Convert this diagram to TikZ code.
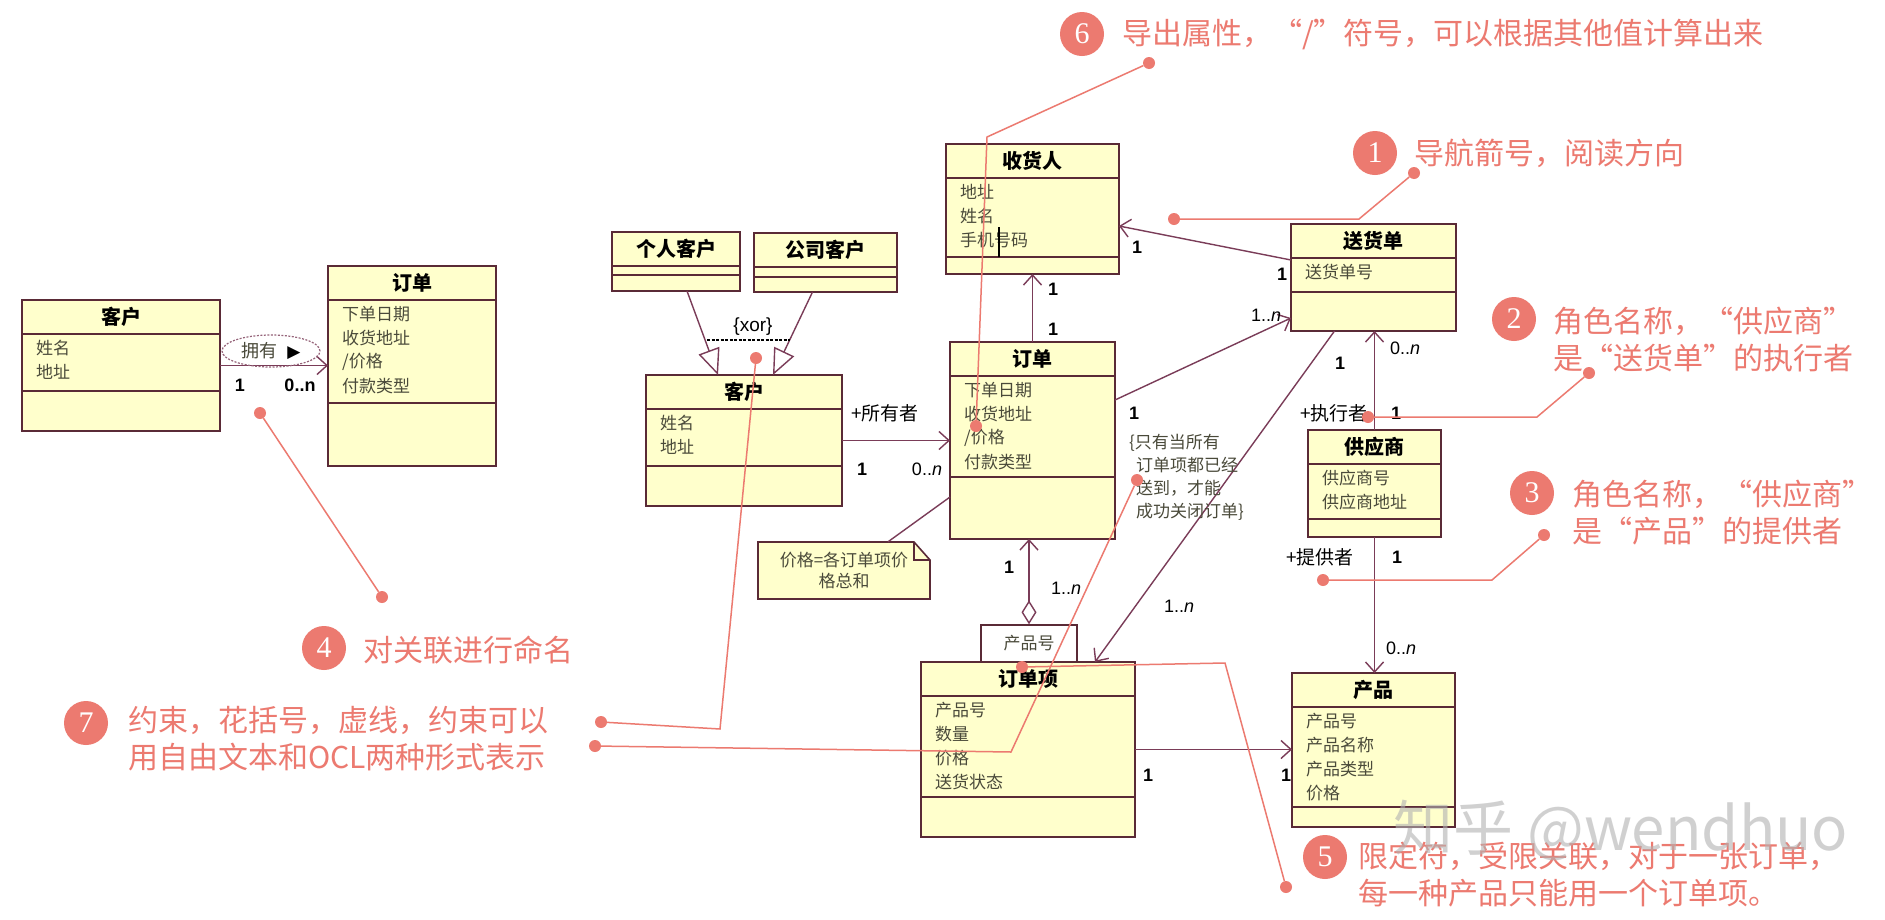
\documentclass[tikz,border=0pt]{standalone}
\usepackage{fontspec}
\setmainfont{Liberation Sans}
\newfontfamily\cjk{Noto Sans CJK SC}
\newfontfamily\numfont{Liberation Serif}
\newfontfamily\symfont{DejaVu Sans}
\usetikzlibrary{arrows.meta,positioning,calc,shapes.geometric}
\definecolor{clsfill}{HTML}{FFFFCC}
\definecolor{clsdraw}{HTML}{5A2A36}
\definecolor{umlline}{HTML}{7A3C58}
\definecolor{annored}{HTML}{EC7A70}
\definecolor{attrtext}{HTML}{4A4A3A}
\newcommand{\sz}[2]{\fontsize{#1}{#2}\selectfont}
% class box: name, left, top, width, height, end of attribute part, title, attributes
\newcommand{\umlcls}[8]{%
  \node[clsbox, anchor=north west, minimum width=#4, minimum height=#5] (#1) at (#2,#3) {};
  \draw[clsrule] ([yshift=-34]#1.north west) -- ([yshift=-34]#1.north east)
                 ([yshift=-#6]#1.north west) -- ([yshift=-#6]#1.north east);
  \node[clstitle] at ([yshift=-17]#1.north) {#7};
  \foreach \attr [count=\i] in {#8}
    \node[clsattr] at ([xshift=14,yshift={-48-24*(\i-1)}]#1.north west) {\attr};
}

\begin{document}
\begin{tikzpicture}[x=1pt,y=-1pt,
    clsbox/.style={draw=clsdraw,fill=clsfill,line width=1.6pt,inner sep=0pt,outer sep=0pt},
    clsrule/.style={draw=clsdraw,line width=1.4pt},
    clstitle/.style={font=\cjk\bfseries\sz{20}{24},text=black,inner sep=0pt},
    clsattr/.style={anchor=west,font=\cjk\sz{17}{24},text=attrtext,inner sep=0pt},
    assoc/.style={draw=umlline,line width=1.4pt,-{Straight Barb[length=10pt,width=18pt]}},
    gen/.style={draw=umlline,line width=1.4pt,-{Triangle[open,length=26pt,width=22pt,fill=white]}},
    mult/.style={font=\bfseries\sz{18}{20},inner sep=0pt},
    multn/.style={font=\sz{18}{20},inner sep=0pt},
    role/.style={font=\cjk\sz{19}{22},inner sep=0pt},
    anno/.style={font=\cjk\sz{30}{37},text=annored,align=left,anchor=west,inner sep=0pt},
    annonum/.style={circle,fill=annored,minimum size=44pt,inner sep=0pt,text=white,
                    font=\numfont\sz{30}{30}},
    annodot/.style={circle,fill=annored,minimum size=12pt,inner sep=0pt},
    annoline/.style={draw=annored,line width=1.5pt}]
  \fill[white] (0,0) rectangle (1885,919);
  \useasboundingbox (0,0) rectangle (1885,919);

  % classes
  \umlcls{khl}{22}{300}{198}{131}{91}{客户}{姓名,地址}
  \umlcls{ddl}{328}{266}{168}{200}{137}{订单}{下单日期,收货地址,/价格,付款类型}
  \umlcls{grkh}{612}{232}{128}{59}{43}{个人客户}{}
  \umlcls{gskh}{754}{233}{143}{59}{44}{公司客户}{}
  \umlcls{khm}{646}{375}{196}{131}{91}{客户}{姓名,地址}
  \umlcls{shr}{946}{144}{173}{130}{113}{收货人}{地址,姓名,手机号码}
  \umlcls{shd}{1291}{224}{165}{107}{68}{送货单}{送货单号}
  \umlcls{ddm}{950}{342}{165}{197}{135}{订单}{下单日期,收货地址,/价格,付款类型}
  \umlcls{gys}{1308}{430}{133}{107}{89}{供应商}{供应商号,供应商地址}
  \umlcls{cp}{1292}{673}{163}{154}{134}{产品}{产品号,产品名称,产品类型,价格}
  \umlcls{ddx}{921}{662}{214}{175}{135}{订单项}{产品号,数量,价格,送货状态}
  \draw[black,line width=1.2pt] (999,227) -- (999,257);

  % qualifier and note
  \node[draw=clsdraw,fill=white,line width=1.4pt,minimum width=96,minimum height=37,
        inner sep=0pt,font=\cjk\sz{17}{20},text=attrtext] (qual) at (1029,643.5) {产品号};
  \draw[clsbox] (758,542) -- (914,542) -- (930,560) -- (930,599) -- (758,599) -- cycle;
  \draw[clsrule] (914,542) -- (914,560) -- (930,560);
  \node[minimum width=172,minimum height=57,inner sep=0pt,align=center,
        font=\cjk\sz{17}{21},text=attrtext] (note) at (844,570.5) {价格=各订单项价\\格总和};

  % connectors
  \draw[assoc] (khl.east) -- (khl.east -| ddl.west);
  \node[ellipse,draw=umlline!80,dash pattern=on 2pt off 1.5pt,line width=1.2pt,
        minimum width=98,minimum height=32,inner sep=0pt,font=\cjk\sz{18}{20},text=attrtext]
        (yy) at (271,351) {拥有\hspace{10pt}{\symfont\color{black}\sz{17}{17}▶}};
  \draw[gen] ([xshift=11]grkh.south) -- ([xshift=-26]khm.north);
  \draw[gen] ([xshift=-13]gskh.south) -- ([xshift=29]khm.north);
  \draw[black,line width=1.6pt,dash pattern=on 3pt off 1.5pt] (707,340) -- (790,340);
  \node[font=\sz{19}{22},inner sep=0pt] (xor) at (753,327) {\{xor\}};
  \draw[assoc] (khm.east) -- (khm.east -| ddm.west);
  \draw[assoc] (ddm.north) -- (ddm.north |- shr.south);
  \draw[assoc] ([yshift=-36]shd.north west) -- ([yshift=-17]shr.east);
  \draw[assoc] ([yshift=-58]ddm.north east) -- ([yshift=-94]shd.north west);
  \draw[assoc] ([xshift=-39]shd.south) -- ([xshift=67]ddx.north);
  \draw[assoc] (gys.north) -- (gys.north |- shd.south);
  \draw[assoc] (gys.south) -- (gys.south |- cp.north);
  \draw[assoc] (ddx.east) -- (ddx.east -| cp.west);
  \draw[draw=umlline,line width=1.4pt,
        {Diamond[open,length=24pt,width=15pt]}-{Straight Barb[length=10pt,width=18pt]}]
        (qual.north) -- (qual.north |- ddm.south);
  \draw[draw=umlline,line width=1.4pt] ([xshift=44]note.north) -- ([yshift=-155]ddm.north west);
  \node[font=\cjk\sz{17}{23},text=attrtext,align=left,anchor=west,inner sep=0pt] (cons)
        at (1129,477) {\{只有当所有\\\hspace{7pt}订单项都已经\\\hspace{7pt}送到，才能\\\hspace{7pt}成功关闭订单\}};

  % multiplicities and roles
  \foreach \pos/\txt [count=\k] in {{(240,385)}/1,{(300,385)}/0..n,{(862,469)}/1,
      {(1053,289)}/1,{(1053,329)}/1,{(1137,247)}/1,{(1282,274)}/1,{(1134,413)}/1,
      {(1340,363)}/1,{(1396,413)}/1,{(1397,557)}/1,{(1009,567)}/1,{(1148,775)}/1,
      {(1286,775)}/1}
    \node[mult] (m\k) at \pos {\txt};
  \foreach \pos [count=\k] in {{(927,469)},{(1405,348)},{(1401,648)}}
    \node[multn] (z\k) at \pos {0..\textit{n}};
  \foreach \pos [count=\k] in {{(1266,315)},{(1066,588)},{(1179,606)}}
    \node[multn] (o\k) at \pos {1..\textit{n}};
  \node[role] (r1) at (885,413) {+所有者};
  \node[role] (r2) at (1334,413) {+执行者};
  \node[role] (r3) at (1320,557) {+提供者};

  % annotations
  \node[annonum] (n6) at (1082,34) {6};
  \node[anno] (a6) at (1122,34) {导出属性，“/”符号，可以根据其他值计算出来};
  \node[annonum] (n1) at (1375,153) {1};
  \node[anno] (a1) at (1414,153) {导航箭号，阅读方向};
  \node[annonum] (n2) at (1514,319) {2};
  \node[anno] (a2) at (1553,340) {角色名称，“供应商”\\是“送货单”的执行者};
  \node[annonum] (n3) at (1532,493) {3};
  \node[anno] (a3) at (1572,513) {角色名称，“供应商”\\是“产品”的提供者};
  \node[annonum] (n4) at (324,648) {4};
  \node[anno] (a4) at (363,650) {对关联进行命名};
  \node[annonum] (n7) at (86,723) {7};
  \node[anno] (a7) at (128,739) {约束，花括号，虚线，约束可以\\用自由文本和OCL两种形式表示};
  \node[annonum] (n5) at (1325,857) {5};
  \node[anno] (a5) at (1358,875) {限定符，受限关联，对于一张订单，\\每一种产品只能用一个订单项。};

  \foreach \nm/\pos in {d6a/{(1149,63)},d6b/{(976,426)},d1a/{(1414,173)},d1b/{(1174,219)},
      d2a/{(1589,373)},d2b/{(1368,417)},d3a/{(1544,535)},d3b/{(1323,580)},
      d4a/{(260,413)},d4b/{(382,597)},d7a/{(601,722)},d7x/{(756,358)},
      d7b/{(595,746)},d7c/{(1137,480)},d5a/{(1022,667)},d5b/{(1286,887)}}
    \node[annodot] (\nm) at \pos {};
  \draw[annoline] (d6a) -- (987,137) -- (d6b);
  \draw[annoline] (d1a) -- (1359,219) -- (d1b);
  \draw[annoline] (d2a) -- (1537,417) -- (d2b);
  \draw[annoline] (d3a) -- (1492,580) -- (d3b);
  \draw[annoline] (d4a) -- (d4b);
  \draw[annoline] (d7a) -- (720,729) -- (d7x);
  \draw[annoline] (d7b) -- (1011,752) -- (d7c);
  \draw[annoline] (d5a) -- (1225,663) -- (d5b);

  \node[font=\cjk\sz{60}{60},text=gray!60,opacity=0.6,inner sep=0pt] (wm) at (1621,830) {知乎 @wendhuo};
\end{tikzpicture}
\end{document}
